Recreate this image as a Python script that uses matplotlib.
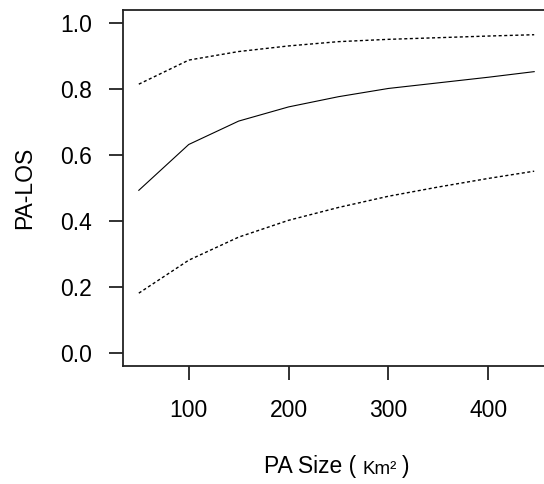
import matplotlib
matplotlib.use("Agg")
import matplotlib.pyplot as plt
from matplotlib.offsetbox import TextArea, HPacker, AnchoredOffsetbox

plt.rcParams['font.family'] = ['Liberation Sans', 'DejaVu Sans']
plt.rcParams['lines.scale_dashes'] = False

# PA size (km^2) and fitted PA-LOS with lower / upper bounds
pa_size = [50, 100, 150, 200, 250, 300, 350, 400, 446]
los_fit = [0.493, 0.632, 0.703, 0.746, 0.777, 0.802, 0.819, 0.836, 0.853]
los_upper = [0.815, 0.888, 0.914, 0.931, 0.944, 0.951, 0.956, 0.961, 0.965]
los_lower = [0.181, 0.281, 0.351, 0.402, 0.441, 0.475, 0.503, 0.529, 0.551]

xticks = [100, 200, 300, 400]
yticks = [0.0, 0.2, 0.4, 0.6, 0.8, 1.0]

W, H = 544, 484
fs = 16.5
fig = plt.figure(figsize=(W / 100, H / 100), dpi=100)
# the plot box runs a little past the right edge of the figure
left, right, top, bottom = 123, 550, 10, 366
ax = fig.add_axes([left / W, 1 - bottom / H, (right - left) / W, (bottom - top) / H])

dots = (0, (2.2, 1.8))
ax.plot(pa_size, los_fit, color='black', lw=0.8)
ax.plot(pa_size, los_upper, color='black', lw=1.0, linestyle=dots)
ax.plot(pa_size, los_lower, color='black', lw=1.0, linestyle=dots)

span = pa_size[-1] - pa_size[0]
ax.set_xlim(pa_size[0] - 0.04 * span, pa_size[-1] + 0.04 * span)
ax.set_ylim(-0.04, 1.04)
ax.set_xticks(xticks)
ax.set_yticks(yticks)
ax.set_yticklabels(['%.1f' % v for v in yticks])

for s in ax.spines.values():
    s.set_linewidth(1.3)
    s.set_color('#222222')
ax.tick_params(direction='out', length=10, width=1.3, color='#222222',
               labelsize=fs)
ax.tick_params(axis='x', pad=14)
ax.tick_params(axis='y', pad=12.5)

fig.text(25 / W, 1 - 188 / H, 'PA-LOS', fontsize=fs, rotation=90,
         ha='center', va='center')

# x label with the unit set in a smaller size
parts = [TextArea('PA Size (', textprops=dict(fontsize=fs)),
         TextArea('Km\u00b2', textprops=dict(fontsize=13.5)),
         TextArea(')', textprops=dict(fontsize=fs))]
box = HPacker(children=parts, align='baseline', pad=0, sep=4)
anchored = AnchoredOffsetbox(loc='center', child=box, frameon=False,
                             bbox_to_anchor=(337 / W, 1 - 467 / H),
                             bbox_transform=fig.transFigure, pad=0, borderpad=0)
fig.add_artist(anchored)

fig.savefig('out.png', dpi=100)
